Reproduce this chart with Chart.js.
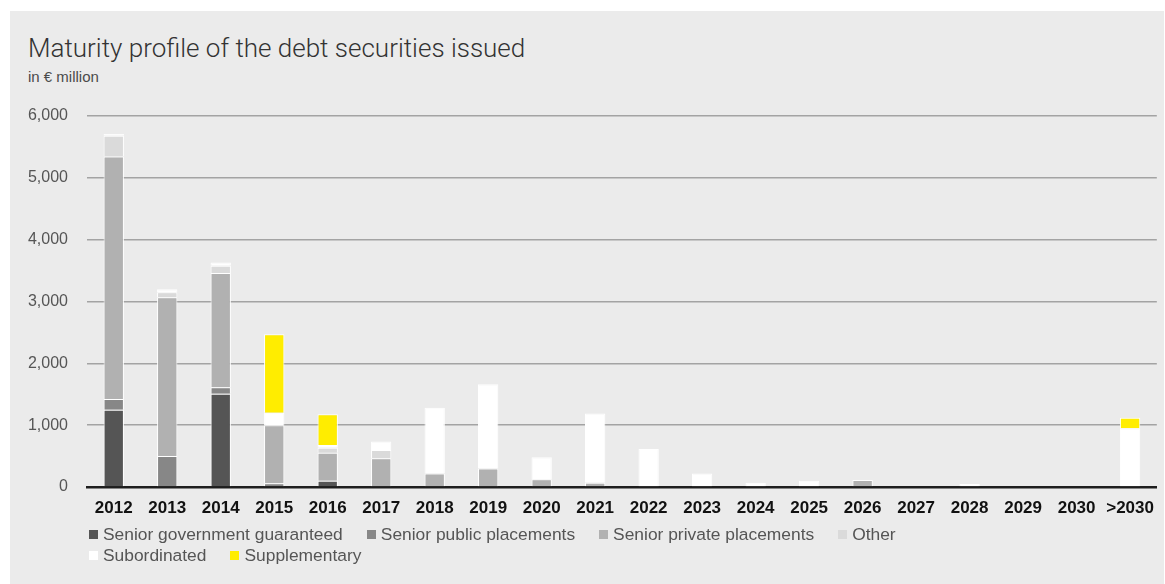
<!DOCTYPE html>
<html>
<head>
<meta charset="utf-8">
<script src="https://cdn.jsdelivr.net/npm/chart.js@4"></script>
<style>
  html, body { margin:0; padding:0; background:#fff; }
  body { width:1165px; height:584px; position:relative; overflow:hidden; font-family:"Liberation Sans", Arial, sans-serif; }
  #panel { position:absolute; left:10px; top:11px; width:1154px; height:573px; background:#ebebeb; }
  #title { position:absolute; left:28px; top:35px; margin:0; font:300 26px/26px Roboto, "Liberation Sans", sans-serif; color:#333; white-space:nowrap; }
  #unit { position:absolute; left:28px; top:69px; font:15px/16px "Liberation Sans", sans-serif; color:#4a4a4a; }
  #wrap { position:absolute; left:0; top:100px; width:1165px; height:430px; }
  #legend { position:absolute; left:89px; top:524px; width:860px; display:flex; flex-wrap:wrap; font:17.4px/21px "Liberation Sans", sans-serif; color:#555; }
  #legend .it { display:flex; align-items:center; margin-right:24px; white-space:nowrap; }
  #legend .sw { width:9px; height:9px; margin-right:5px; }
</style>
</head>
<body>
<div id="panel"></div>
<h1 id="title">Maturity profile of the debt securities issued</h1>
<div id="unit">in € million</div>
<div id="wrap"><canvas id="chart" width="1165" height="430"></canvas></div>
<div id="legend"></div>
<script>
const $ = sel => document.querySelector(sel);

// maturity buckets
const years = ['2012','2013','2014','2015','2016','2017','2018','2019','2020','2021',
               '2022','2023','2024','2025','2026','2027','2028','2029','2030','>2030'];

// € million per bucket, one array per instrument type (null = nothing due)
const govGuaranteed = [1250, null, 1510, null, 100, null, null, null, null, null, null, null, null, null, null, null, null, null, null, null];
const publicPlac    = [175, 500, 105, 60, null, null, null, null, null, null, null, null, null, null, null, null, null, null, null, null];
const privatePlac   = [3920, 2570, 1845, 940, 455, 465, 220, 300, 125, 70, null, null, null, null, 115, null, null, null, null, null];
const other         = [335, 80, 120, null, 80, 135, null, null, null, null, null, null, null, null, null, null, null, null, null, null];
const subordinated  = [30, 50, 50, 200, 45, 135, 1060, 1360, 355, 1120, 615, 220, 70, 100, null, null, 50, null, null, 950];
const supplementary = [null, null, null, 1270, 495, null, null, null, null, null, null, null, null, null, null, null, null, null, null, 170];

const yTicks = [0, 1000, 2000, 3000, 4000, 5000, 6000];

const series = [
  { label:'Senior government guaranteed', data:govGuaranteed, color:'#555555' },
  { label:'Senior public placements',     data:publicPlac,    color:'#878787' },
  { label:'Senior private placements',    data:privatePlac,   color:'#b1b1b1' },
  { label:'Other',                        data:other,         color:'#dadada' },
  { label:'Subordinated',                 data:subordinated,  color:'#ffffff' },
  { label:'Supplementary',                data:supplementary, color:'#ffed00' },
];

function fmt(n){ return Number(n).toLocaleString('en-US'); }

function buildLegend(){
  const el = $('#legend'); el.innerHTML='';
  series.forEach(s=>{
    const it = document.createElement('div'); it.className='it';
    it.innerHTML = `<span class="sw" style="background:${s.color}"></span><span>${s.label}</span>`;
    el.appendChild(it);
  });
}

const chart = new Chart($('#chart'), {
  type:'bar',
  data:{
    labels: years,
    datasets: series.map(s=>({
      label: s.label, data: s.data, backgroundColor: s.color,
      borderColor:'#ffffff', borderWidth:{ top:1, left:1, right:1, bottom:0 }, borderSkipped:false,
      barPercentage:0.38, categoryPercentage:1
    }))
  },
  options:{
    responsive:false, animation:false,
    layout:{ padding:{ top:16, right:2, left:0, bottom:0 } },
    plugins:{ legend:{ display:false }, title:{ display:false }, tooltip:{ enabled:false } },
    scales:{
      x:{
        stacked:true, offset:true, z:1,
        grid:{ display:false, drawTicks:false },
        border:{ display:true, color:'#1e1e1e', width:2.5 },
        ticks:{ color:'#111', font:{ family:'Liberation Sans', size:17, weight:'bold' }, padding:11, maxRotation:0, autoSkip:false },
        afterFit: s => { s.height = 43; }
      },
      y:{
        stacked:true, min:0, max:6000,
        afterBuildTicks: s => { s.ticks = yTicks.map(v=>({ value:v })); },
        grid:{ color:'#a3a3a3', lineWidth:1.5, drawTicks:false },
        border:{ display:false },
        ticks:{ color:'#555', font:{ family:'Liberation Sans', size:16 }, padding:19, callback: v => fmt(v) },
        // label gap is horizontal only, keep it out of the vertical padding
        afterFit: s => { s.width = 87; s.paddingTop = 0; s.paddingBottom = 0; }
      }
    }
  }
});

buildLegend();
</script>
</body>
</html>
